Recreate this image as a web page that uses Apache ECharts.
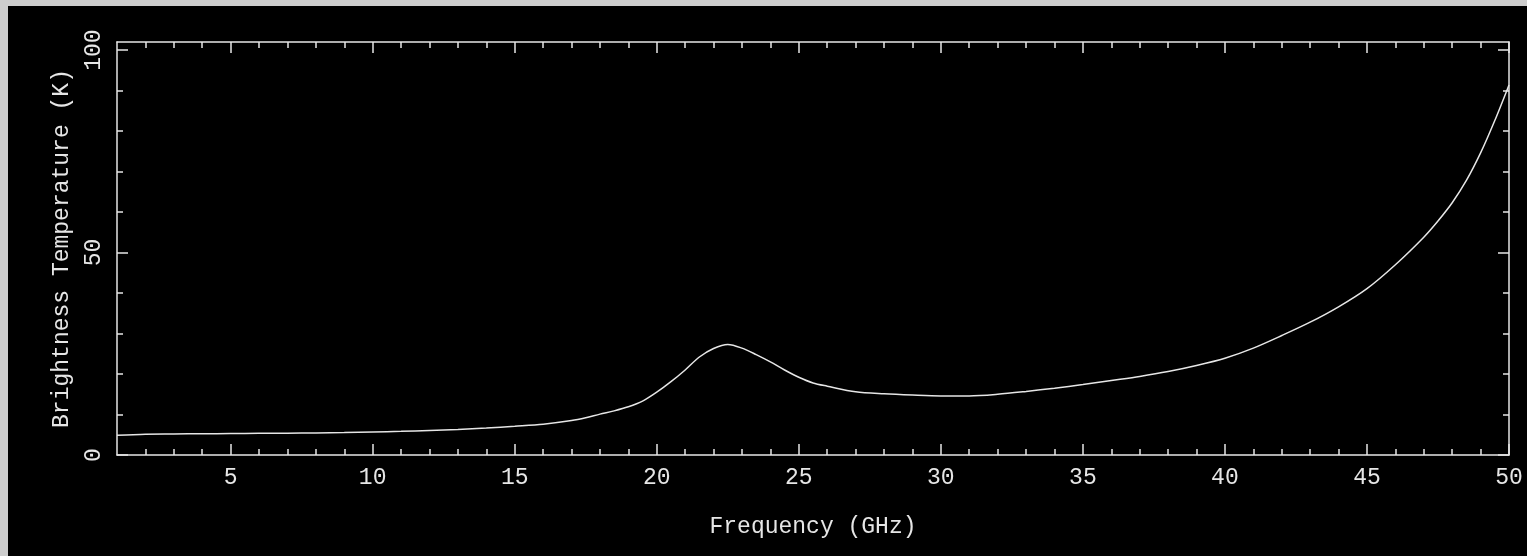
<!DOCTYPE html>
<html>
<head>
<meta charset="utf-8">
<script src="https://cdn.jsdelivr.net/npm/echarts@6/dist/echarts.min.js"></script>
<style>
  html, body { margin: 0; padding: 0; background: #cdcdcd; width: 1527px; height: 556px; overflow: hidden; }
  #chart { position: absolute; left: 8px; top: 6px; width: 1519px; height: 550px; background: #000; }
</style>
</head>
<body>
<div id="chart"></div>
<script>
// Frequency (GHz)
const freq = [1, 2, 3, 4, 5, 6, 7, 8, 9, 10, 11, 12, 13, 14, 15, 16, 17, 17.5, 18, 18.5, 19, 19.5,
  20, 20.5, 21, 21.5, 22, 22.5, 23, 23.5, 24, 24.5, 25, 25.5, 26, 27, 28, 29, 30, 31, 32, 33, 34,
  35, 36, 37, 38, 39, 40, 41, 42, 43, 44, 45, 46, 47, 47.5, 48, 48.5, 49, 49.5, 50];
// Brightness temperature (K)
const temp = [4.9, 5.15, 5.2, 5.25, 5.3, 5.35, 5.4, 5.45, 5.55, 5.7, 5.85, 6.05, 6.3, 6.65, 7.1, 7.6, 8.5, 9.2, 10.1, 10.9, 11.9, 13.3,
  15.5, 18.1, 21.0, 24.2, 26.3, 27.3, 26.4, 24.8, 23.0, 21.0, 19.2, 17.8, 17.0, 15.6, 15.1, 14.8, 14.6, 14.6, 15.0, 15.7, 16.5,
  17.4, 18.4, 19.4, 20.6, 22.1, 23.9, 26.4, 29.5, 32.8, 36.6, 41.1, 47.0, 53.8, 57.8, 62.3, 67.8, 74.6, 82.6, 91.4];

const xMajor = [5, 10, 15, 20, 25, 30, 35, 40, 45, 50];
const xMinor = [2, 3, 4, 6, 7, 8, 9, 11, 12, 13, 14, 16, 17, 18, 19, 21, 22, 23, 24, 26, 27, 28, 29,
  31, 32, 33, 34, 36, 37, 38, 39, 41, 42, 43, 44, 46, 47, 48, 49];
const yMajor = [0, 50, 100];
const yMinor = [10, 20, 30, 40, 60, 70, 80, 90];

const xRange = [1, 50];
const yRange = [0, 102];

const FG = '#e6e6e6';
const FONT = 'Liberation Mono';

function mkX(pos, values, len, labels, lineShow) {
  return {
    type: 'value', position: pos, min: xRange[0], max: xRange[1],
    name: labels ? 'Frequency (GHz)' : '',
    nameLocation: 'middle', nameGap: 60,
    nameTextStyle: { color: FG, fontFamily: FONT, fontSize: 23 },
    axisLine: { show: lineShow, onZero: false, lineStyle: { color: FG, width: 1.5 } },
    axisTick: { show: true, inside: true, length: len, customValues: values, lineStyle: { color: FG, width: 1.5 } },
    axisLabel: { show: labels, customValues: values, color: FG, fontFamily: FONT, fontSize: 23, margin: 11 },
    splitLine: { show: false }
  };
}
function mkY(pos, values, len, labels, lineShow) {
  return {
    type: 'value', position: pos, min: yRange[0], max: yRange[1],
    name: labels ? 'Brightness Temperature (K)' : '',
    nameLocation: 'middle', nameGap: 44,
    nameTextStyle: { color: FG, fontFamily: FONT, fontSize: 23 },
    axisLine: { show: lineShow, onZero: false, lineStyle: { color: FG, width: 1.5 } },
    axisTick: { show: true, inside: true, length: len, customValues: values, lineStyle: { color: FG, width: 1.5 } },
    axisLabel: { show: labels, customValues: values, rotate: 90, color: FG, fontFamily: FONT, fontSize: 23, margin: 12 },
    splitLine: { show: false }
  };
}

const chart = echarts.init(document.getElementById('chart'), null, { renderer: 'canvas' });
chart.setOption({
  backgroundColor: '#000',
  animation: false,
  grid: { left: 109, top: 36, right: 18, bottom: 101, containLabel: false },
  xAxis: [
    mkX('bottom', xMajor, 11, true, true),
    mkX('bottom', xMinor, 6, false, false),
    mkX('top', xMajor, 11, false, true),
    mkX('top', xMinor, 6, false, false)
  ],
  yAxis: [
    mkY('left', yMajor, 11, true, true),
    mkY('left', yMinor, 6, false, false),
    mkY('right', yMajor, 11, false, true),
    mkY('right', yMinor, 6, false, false)
  ],
  series: [{
    type: 'line',
    xAxisIndex: 0, yAxisIndex: 0,
    data: freq.map((f, i) => [f, temp[i]]),
    showSymbol: false,
    smooth: 0.3,
    lineStyle: { color: FG, width: 1.5 }
  }]
});
</script>
</body>
</html>
